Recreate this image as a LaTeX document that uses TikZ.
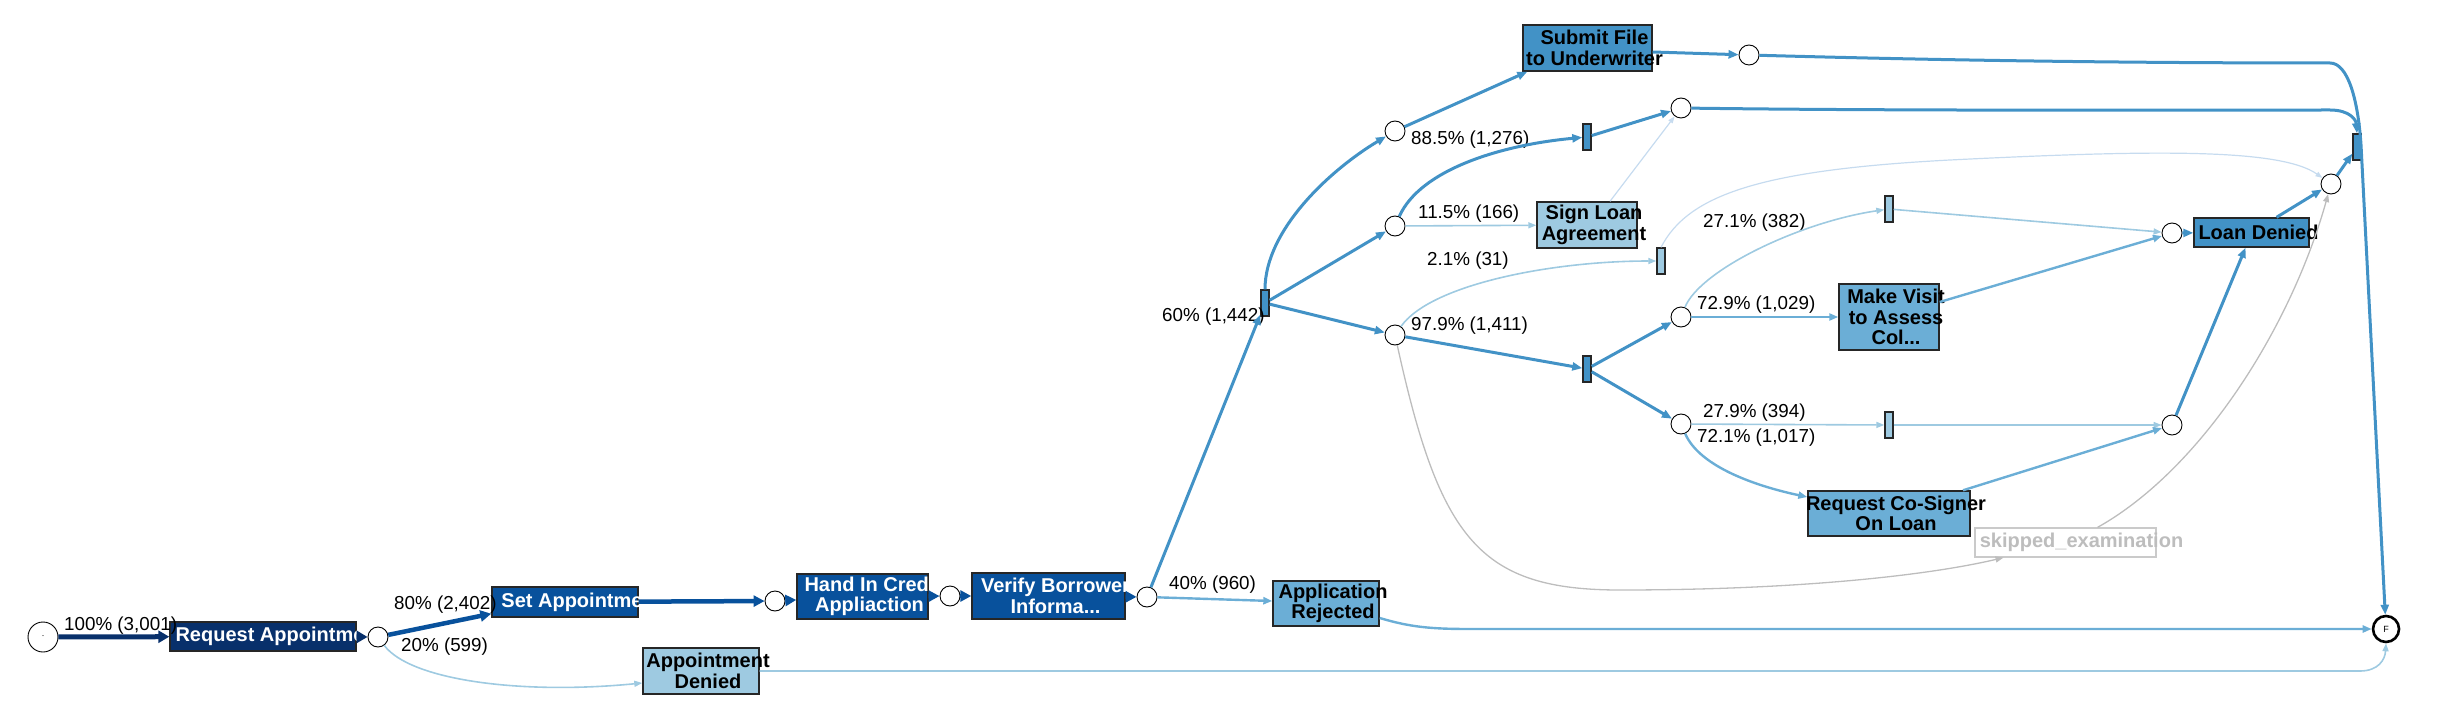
\documentclass[tikz,border=0pt]{standalone}
\usepackage{fontspec}
\setmainfont{Liberation Sans}
\usetikzlibrary{arrows.meta}
\definecolor{bl9}{HTML}{08306B}
\definecolor{bl8}{HTML}{08519C}
\definecolor{bl6}{HTML}{4292C6}
\definecolor{bl5}{HTML}{6BAED6}
\definecolor{bl4}{HTML}{9ECAE1}
\definecolor{bl3}{HTML}{C6DBEF}
\definecolor{skipgray}{HTML}{BDBDBD}

\begin{document}
\begin{tikzpicture}[x=1pt,y=-1pt,
  place/.style={circle,draw=black,line width=0.9pt,fill=white,minimum size=20pt,inner sep=0pt},
  silent/.style={rectangle,draw=black!85,line width=1.4pt,minimum width=8pt,minimum height=26pt,inner sep=0pt},
  task/.style={rectangle,draw=black!85,line width=1.4pt,inner sep=0pt},
  tasktxt/.style={align=center,xshift=7pt,inner sep=0pt,font=\fontsize{20}{20.5}\selectfont\bfseries},
  freq/.style={anchor=west,inner sep=0pt,font=\fontsize{18.8}{20}\selectfont},
  arcA/.style={draw=bl9,line width=5pt,-{Triangle[length=11pt,width=12pt]}},
  arcB/.style={draw=bl8,line width=4.5pt,-{Triangle[length=11pt,width=11pt]}},
  arcC/.style={draw=bl6,line width=3pt,-{Triangle[length=10pt,width=8pt]}},
  arcD/.style={draw=bl5,line width=2.4pt,-{Triangle[length=9pt,width=7pt]}},
  arcE/.style={draw=bl4,line width=1.6pt,-{Triangle[length=8pt,width=6pt]}},
  arcF/.style={draw=bl3,line width=1.2pt,-{Triangle[length=7pt,width=5pt]}},
  arcG/.style={draw=skipgray,line width=1.3pt,-{Triangle[length=8pt,width=6pt]}}]
  \useasboundingbox (0,0) rectangle (2440,722);

  % places and silent transitions
  \node[place,minimum size=30pt,font=\fontsize{9}{9}\selectfont] (start) at (43,637) {\textperiodcentered};
  \node[place,minimum size=26pt,line width=2.6pt,font=\fontsize{9}{9}\selectfont] (fin) at (2386,629) {F};
  \foreach \n/\x/\y in {p1/378/637,p2/775/601,p3/950/596,p4/1147/597,p5/1395/131,p6/1395/226,
      p7/1395/335,p8/1749/55,p9/1681/108,p10/1681/317,p11/1681/424,p12/2172/233,p13/2331/184,p14/2172/425}
    \node[place] (\n) at (\x,\y) {};
  \foreach \n/\x/\y/\c in {t60/1265/303/bl6,t885/1587/137/bl6,t21/1661/261/bl4,t979/1587/369/bl6,
      t271/1889/209/bl4,t279/1889/425/bl4,tEnd/2357/147/bl6}
    \node[silent,fill=\c] (\n) at (\x,\y) {};

  % activities
  \node[task,fill=bl9,minimum width=186pt,minimum height=29pt,label={[tasktxt,text=white]center:Request Appointme}] (reqApp) at (263,636.5) {};
  \node[task,fill=bl8,minimum width=146pt,minimum height=30pt,label={[tasktxt,text=white]center:Set Appointme}] (setApp) at (565,602) {};
  \node[task,fill=bl8,minimum width=131pt,minimum height=45pt,label={[tasktxt,text=white]center:{Hand In Credi\\Appliaction}}] (handIn) at (862.5,596.5) {};
  \node[task,fill=bl8,minimum width=153pt,minimum height=46pt,label={[tasktxt,text=white]center:{Verify Borrower\\Informa...}}] (verify) at (1048.5,596) {};
  \node[task,fill=bl5,minimum width=106pt,minimum height=45pt,label={[tasktxt]center:{Application\\Rejected}}] (appRej) at (1326,603.5) {};
  \node[task,fill=bl4,minimum width=116pt,minimum height=46pt,label={[tasktxt]center:{Appointment\\Denied}}] (appDen) at (701,671) {};
  \node[task,fill=bl6,minimum width=129pt,minimum height=46pt,label={[tasktxt]center:{Submit File\\to Underwriter}}] (submit) at (1587.5,48) {};
  \node[task,fill=bl4,minimum width=100pt,minimum height=46pt,label={[tasktxt]center:{Sign Loan\\Agreement}}] (signLoan) at (1587,225) {};
  \node[task,fill=bl5,minimum width=100pt,minimum height=66pt,label={[tasktxt]center:{Make Visit\\to Assess\\Col...}}] (visit) at (1889,317) {};
  \node[task,fill=bl5,minimum width=162pt,minimum height=45pt,label={[tasktxt]center:{Request Co-Signer\\On Loan}}] (coSign) at (1889,513.5) {};
  \node[task,fill=white,draw=skipgray!80,line width=1.2pt,minimum width=181pt,minimum height=29pt,label={[tasktxt,xshift=9pt,text=skipgray]center:skipped\_examination}] (skipped) at (2065.5,542.5) {};
  \node[task,fill=bl6,minimum width=115pt,minimum height=29pt,label={[tasktxt]center:Loan Denied}] (loanDen) at (2251.5,232.5) {};

  % frequencies
  \node[freq] (f1) at (64,626) {100\% (3,001)};
  \node[freq] (f2) at (394,605) {80\% (2,402)};
  \node[freq] (f3) at (401,647) {20\% (599)};
  \node[freq] (f4) at (1169,585) {40\% (960)};
  \node[freq] (f5) at (1162,317) {60\% (1,442)};
  \node[freq] (f6) at (1411,140) {88.5\% (1,276)};
  \node[freq] (f7) at (1418,214) {11.5\% (166)};
  \node[freq] (f8) at (1427,261) {2.1\% (31)};
  \node[freq] (f9) at (1411,326) {97.9\% (1,411)};
  \node[freq] (f10) at (1703,223) {27.1\% (382)};
  \node[freq] (f11) at (1697,305) {72.9\% (1,029)};
  \node[freq] (f12) at (1703,413) {27.9\% (394)};
  \node[freq] (f13) at (1697,438) {72.1\% (1,017)};

  % arcs
  \draw[arcA] (start) -- (reqApp);
  \draw[arcA] (reqApp) -- (p1);
  \draw[arcB] (p1) -- ([yshift=4pt]setApp.south west);
  \draw[arcE] (p1) .. controls (410,680) and (520,695) .. ([yshift=-12pt]appDen.west);
  \draw[arcB] (setApp) -- (p2);
  \draw[arcB] (p2) -- (handIn);
  \draw[arcB] (handIn) -- (p3);
  \draw[arcB] (p3) -- (verify);
  \draw[arcB] (verify) -- (p4);
  \draw[arcD] (p4) -- ([yshift=2.5pt]appRej.west);
  \draw[arcC] (p4) -- (t60);
  \draw[arcD] ([yshift=-14.5pt]appRej.east) .. controls (1410,627) and (1430,629) .. (1470,629) -- (fin);
  \draw[arcE] (appDen.east) -- (2360,671) .. controls (2378,671) and (2385,660) .. (fin.south);
  \draw[arcC] (t60.north) .. controls (1265,230) and (1330,170) .. (p5);
  \draw[arcC] (t60) -- (p6);
  \draw[arcC] (t60) -- (p7);
  \draw[arcC] (p5) -- ([xshift=5pt]submit.south west);
  \draw[arcC] ([yshift=-4pt]submit.east) -- (p8);
  \draw[arcC] (p8) .. controls (2000,62) and (2200,63) .. (2330,63) .. controls (2348,63) and (2358,100) .. (2361,145) -- (fin);
  \draw[arcC] (p6) .. controls (1420,170) and (1500,145) .. (t885);
  \draw[arcE] (p6) -- (signLoan);
  \draw[arcF] ([xshift=23pt]signLoan.north) -- (p9);
  \draw[arcC] (t885) -- (p9);
  \draw[arcC] (p9) .. controls (1900,111) and (2200,110) .. (2330,110) .. controls (2350,110) and (2356,120) .. (tEnd.north);
  \draw[arcC] (p7) -- (t979);
  \draw[arcE] (p7) .. controls (1430,285) and (1550,261) .. (t21);
  \draw[arcF] (t21.north) .. controls (1688,195) and (1760,170) .. (1950,160) .. controls (2150,150) and (2280,148) .. (p13);
  \draw[arcG] (p7) .. controls (1440,540) and (1480,590) .. (1620,590) .. controls (1800,590) and (1930,575) .. ([xshift=-62pt]skipped.south);
  \draw[arcG] ([xshift=32pt]skipped.north) .. controls (2200,470) and (2290,330) .. (p13);
  \draw[arcC] (t979) -- (p10);
  \draw[arcC] (t979) -- (p11);
  \draw[arcD] (p10) -- (visit);
  \draw[arcE] (p10) .. controls (1700,270) and (1800,222) .. (t271);
  \draw[arcE] (t271) -- (p12);
  \draw[arcD] ([yshift=15pt]visit.east) -- (p12);
  \draw[arcC] (p12) -- (loanDen);
  \draw[arcC] ([xshift=25pt]loanDen.north) -- (p13);
  \draw[arcC] (p13) -- (tEnd);
  \draw[arcE] (p11) -- (t279);
  \draw[arcE] (t279) -- (p14);
  \draw[arcD] (p11) .. controls (1700,468) and (1760,487) .. ([yshift=16.5pt]coSign.west);
  \draw[arcD] ([xshift=74pt]coSign.north) -- (p14);
  \draw[arcC] (p14) -- ([xshift=-6pt]loanDen.south);
\end{tikzpicture}
\end{document}
